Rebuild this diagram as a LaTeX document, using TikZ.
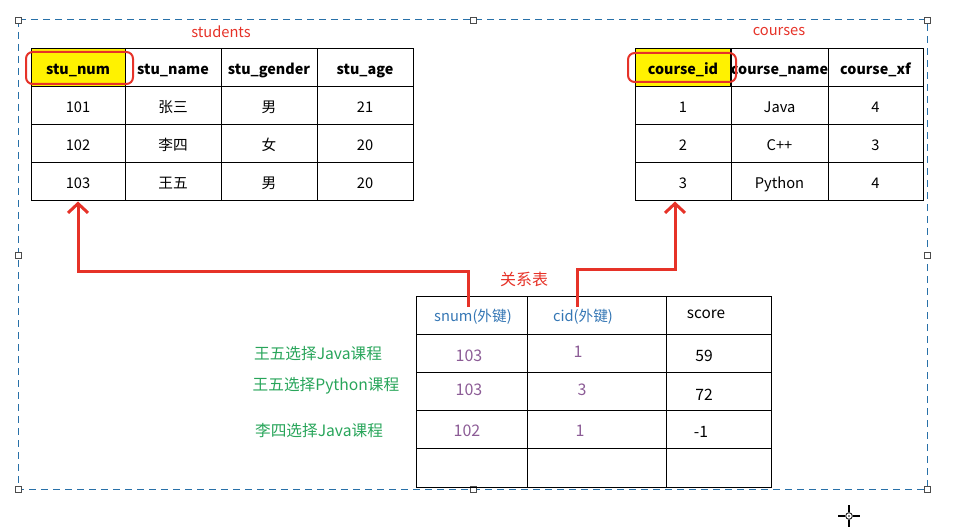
\documentclass[tikz,border=0pt]{standalone}
\usepackage{fontspec}
\setmainfont{Noto Sans CJK SC}
\usetikzlibrary{arrows.meta}

\definecolor{linkred}{RGB}{230,50,40}
\definecolor{framebl}{RGB}{40,112,168}
\definecolor{keyblue}{RGB}{52,118,180}
\definecolor{valpurple}{RGB}{140,92,150}
\definecolor{notegreen}{RGB}{40,165,90}

\begin{document}
\begin{tikzpicture}[x=0.75pt,y=-0.75pt,
		cell/.style={draw, line width=0.75pt, inner sep=0pt, minimum height=28.5pt, text height=10pt, text depth=0.5pt, font=\fontsize{11}{13}\selectfont},
		head/.style={cell, font=\fontsize{10.75}{12}\selectfont\bfseries},
		tabtitle/.style={text=linkred, font=\fontsize{11}{13}\selectfont},
		keyring/.style={draw=linkred, line width=1.5pt, rounded corners=5pt, inner sep=0pt},
		fkhead/.style={text=keyblue, font=\fontsize{11}{13}\selectfont},
		val/.style={text=valpurple, font=\fontsize{12}{14}\selectfont},
		note/.style={text=notegreen, font=\fontsize{11.75}{14}\selectfont},
		link/.style={draw=linkred, line width=2.25pt, -{Straight Barb[length=7pt,width=15pt]}},
		frame/.style={draw=framebl, line width=0.75pt, dash pattern=on 5.25pt off 3.75pt},
		handle/.style={draw=black!70, fill=white, line width=0.6pt}]
	\useasboundingbox (0,0) rectangle (980,527);

	% dashed frame and its handles
	\draw[frame] (18,20) rectangle (927,489);
	\foreach \hx/\hy in {18/20, 473/20, 927/20, 18/255, 927/255, 18/489, 473/489, 927/489}
		\draw[handle] (\hx-3,\hy-3) rectangle (\hx+3,\hy+3);

	% students
	\node[tabtitle] (tstu) at (221,32) {students};
	\node[head, fill=yellow, minimum width=70.5pt] (s01) at (78,68) {stu\_num};
	\node[head, minimum width=72pt] (s02) at (173,68) {stu\_name};
	\node[head, minimum width=72pt] (s03) at (269,68) {stu\_gender};
	\node[head, minimum width=72pt] (s04) at (365,68) {stu\_age};
	\foreach \r/\ry/\a/\b/\c/\d in {1/106/101/张三/男/21, 2/144/102/李四/女/20, 3/182/103/王五/男/20} {
		\node[cell, minimum width=70.5pt] (s\r1) at (78,\ry) {\a};
		\node[cell, minimum width=72pt] (s\r2) at (173,\ry) {\b};
		\node[cell, minimum width=72pt] (s\r3) at (269,\ry) {\c};
		\node[cell, minimum width=72pt] (s\r4) at (365,\ry) {\d};
	}
	\node[keyring, minimum width=80.25pt, minimum height=24pt] (kstu) at (79.5,68) {};

	% courses
	\node[tabtitle] (tcou) at (779,32) {courses};
	\node[head, fill=yellow, minimum width=72pt] (c01) at (683,68) {course\_id};
	\node[head, minimum width=72.75pt] (c02) at (779.5,68) {course\_name};
	\node[head, minimum width=71.25pt] (c03) at (875.5,68) {course\_xf};
	\foreach \r/\ry/\a/\b/\c in {1/106/1/Java/4, 2/144/2/C++/3, 3/182/3/Python/4} {
		\node[cell, minimum width=72pt] (c\r1) at (683,\ry) {\a};
		\node[cell, minimum width=72.75pt] (c\r2) at (779.5,\ry) {\b};
		\node[cell, minimum width=71.25pt] (c\r3) at (875.5,\ry) {\c};
	}
	\node[keyring, minimum width=81pt, minimum height=21.75pt] (kcou) at (682,67.5) {};

	% relation table
	\node[tabtitle, font=\fontsize{12}{14}\selectfont] (trel) at (524,279) {关系表};
	\foreach \r/\ry/\rh in {0/315/28.5pt, 1/353/28.5pt, 2/391/28.5pt, 3/429/28.5pt, 4/467.5/29.25pt} {
		\node[cell, minimum height=\rh, minimum width=83.25pt] (r\r1) at (471.5,\ry) {};
		\node[cell, minimum height=\rh, minimum width=104.25pt] (r\r2) at (596.5,\ry) {};
		\node[cell, minimum height=\rh, minimum width=78.75pt] (r\r3) at (718.5,\ry) {};
	}
	\node[fkhead] (k01) at (473,317) {snum(外键)};
	\node[fkhead] (k02) at (583,317) {cid(外键)};
	\node[font=\fontsize{11.5}{13}\selectfont] (k03) at (706,314) {score};
	\node[val] (k11) at (469,356) {103};
	\node[val] (k12) at (578,352) {1};
	\node[font=\fontsize{11.75}{14}\selectfont] (k13) at (704,356) {59};
	\node[val] (k21) at (469,390) {103};
	\node[val] (k22) at (582,390) {3};
	\node[font=\fontsize{11.75}{14}\selectfont] (k23) at (704,395) {72};
	\node[val] (k31) at (467,431) {102};
	\node[val] (k32) at (580,431) {1};
	\node[font=\fontsize{11.75}{14}\selectfont] (k33) at (701,432) {-1};

	\node[note] (n1) at (318,354) {王五选择Java课程};
	\node[note] (n2) at (326,386) {王五选择Python课程};
	\node[note] (n3) at (319,431) {李四选择Java课程};

	% foreign keys
	\coordinate (fk1) at (468,307);
	\coordinate (fk2) at (577,307);
	\draw[link] (fk1) -- ++(0,-36) -| (s31.south);
	\draw[link] (fk2) -- ++(0,-38) -| ([xshift=-6pt]c31.south);

	% cursor
	\draw[line width=0.9pt] (838,516) -- (845,516) (853,516) -- (860,516) (849,505) -- (849,512) (849,520) -- (849,527);
	\draw[line width=0.6pt] (849,516) circle (2.5pt);
	\fill (849,516) circle (0.6pt);
\end{tikzpicture}
\end{document}
